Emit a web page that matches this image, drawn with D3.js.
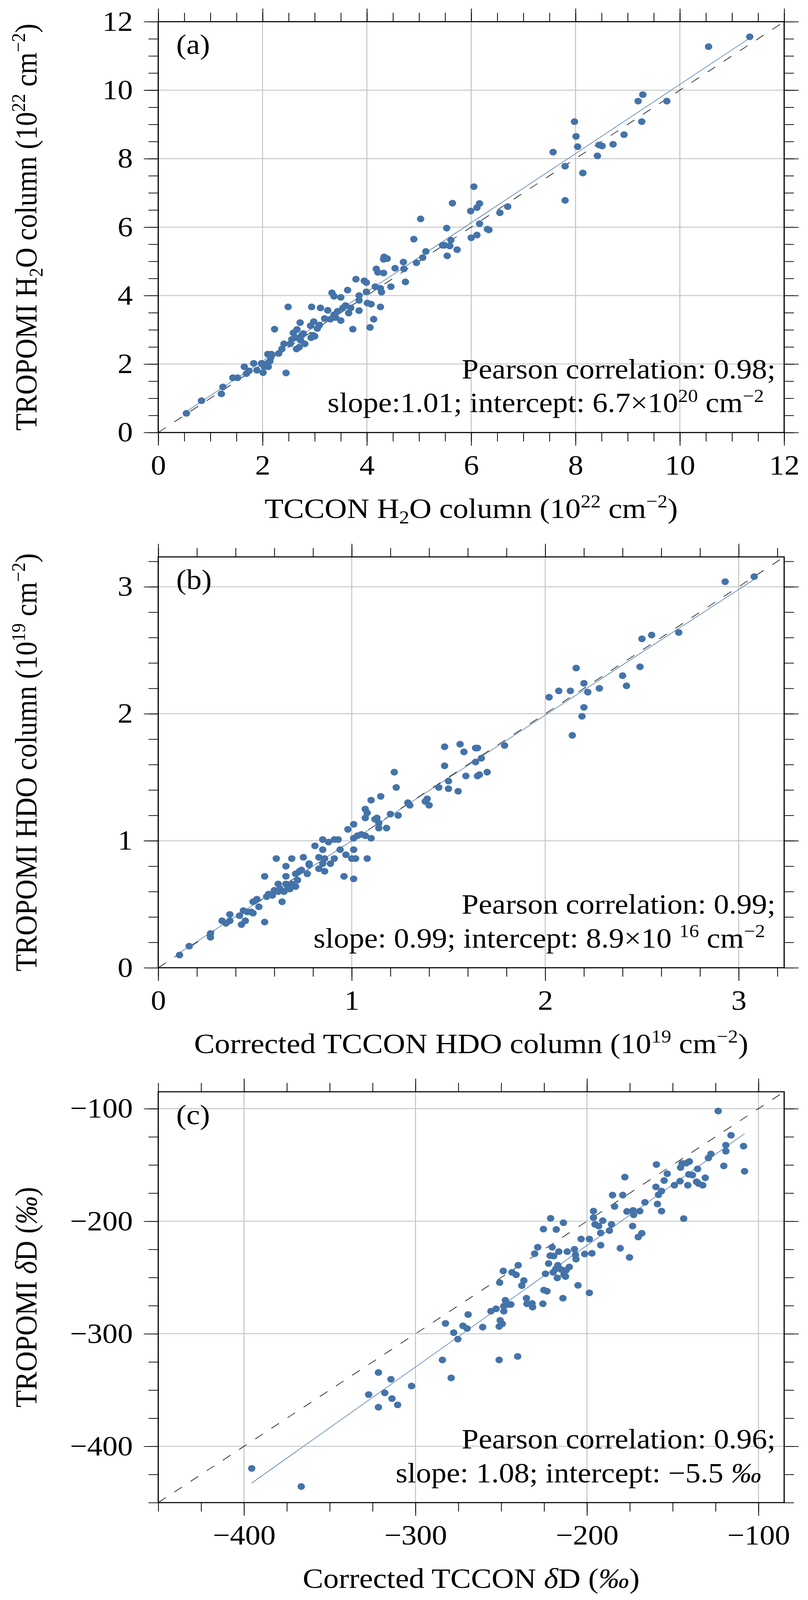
<!DOCTYPE html>
<html>
<head>
<meta charset="utf-8">
<script src="https://cdn.jsdelivr.net/npm/d3@7"></script>
<style>
  html, body { margin: 0; padding: 0; background: #fff; overflow: hidden; }
  svg { display: block; }
  text { font-family: "Liberation Serif", "Times New Roman", serif; fill: #000; white-space: pre; }
</style>
</head>
<body>
<script>
// (a) H2O columns, 10^22 cm^-2
const h2oTccon = [0.54,0.83,1.24,1.21,1.43,1.52,1.65,1.69,1.74,1.83,1.89,1.98,2.01,2.03,2.09,2.11,2.14,2.10,2.17,2.16,
  2.23,2.31,2.37,2.41,2.45,2.49,2.53,2.56,2.59,2.63,2.66,2.65,2.70,2.72,2.73,2.75,2.78,2.81,2.92,2.94,
  2.93,2.98,2.97,3.00,3.05,3.09,3.11,3.19,3.25,3.30,3.33,3.37,3.37,3.40,3.44,3.50,3.50,3.54,3.59,3.63,
  3.65,3.69,3.73,3.79,3.85,3.85,3.85,3.95,3.99,3.99,4.01,4.06,4.08,4.13,4.16,4.18,4.21,4.26,4.28,4.26,
  4.32,4.32,4.33,4.39,4.46,4.54,4.70,4.71,4.74,4.90,4.95,5.03,5.07,5.13,5.45,5.49,5.53,5.54,5.59,5.61,
  5.64,5.73,5.99,6.00,6.05,6.11,6.11,6.16,6.16,6.31,6.34,6.55,6.70,7.57,7.80,7.80,7.98,8.01,8.04,8.14,
  8.42,8.45,8.51,8.72,8.93,9.20,9.27,9.29,9.75,10.55,11.34];
const h2oTropomi = [0.56,0.93,1.33,1.13,1.60,1.60,1.92,1.72,1.80,2.02,1.82,2.02,1.75,1.92,2.02,1.92,2.08,2.29,2.29,2.20,
  3.02,2.31,2.44,2.59,1.74,3.67,2.59,2.72,2.91,2.77,3.01,2.44,2.49,3.21,2.69,2.84,2.89,2.59,3.12,3.67,
  2.77,3.24,2.84,2.81,3.04,3.14,3.64,3.33,3.57,3.31,4.08,3.44,3.98,3.36,3.54,3.27,3.95,3.64,3.71,4.16,
  3.49,3.64,3.02,4.48,3.86,4.00,3.56,4.43,4.11,4.38,3.78,3.07,3.75,3.31,4.26,4.78,4.68,3.67,4.10,4.21,
  4.66,5.06,5.13,5.08,4.26,4.80,4.98,4.78,4.40,5.65,4.96,6.24,5.11,5.29,5.47,5.47,5.97,5.16,5.45,5.62,
  6.70,5.34,6.47,5.69,7.18,6.57,5.77,6.69,6.10,5.94,5.92,6.42,6.60,8.19,7.78,6.78,9.08,8.65,8.35,7.58,
  8.08,8.40,8.37,8.42,8.70,9.68,9.08,9.87,9.68,11.27,11.56];

// (b) HDO columns, 10^19 cm^-2
const hdoTccon = [0.11,0.16,0.27,0.27,0.33,0.35,0.37,0.37,0.42,0.43,0.44,0.45,0.46,0.48,0.49,0.49,0.51,0.52,0.55,0.55,
  0.56,0.57,0.59,0.60,0.61,0.62,0.62,0.63,0.64,0.66,0.66,0.65,0.66,0.67,0.68,0.69,0.69,0.71,0.71,0.72,
  0.73,0.74,0.75,0.77,0.78,0.78,0.81,0.83,0.83,0.85,0.85,0.85,0.86,0.86,0.88,0.89,0.91,0.91,0.93,0.94,
  0.96,0.97,0.98,1.00,1.01,1.01,1.01,1.01,1.02,1.03,1.05,1.07,1.07,1.07,1.08,1.08,1.10,1.10,1.12,1.13,
  1.14,1.14,1.15,1.18,1.20,1.22,1.23,1.24,1.29,1.30,1.38,1.39,1.40,1.45,1.48,1.48,1.50,1.50,1.55,1.56,
  1.58,1.59,1.64,1.65,1.64,1.65,1.66,1.67,1.70,1.79,2.02,2.07,2.13,2.14,2.16,2.19,2.20,2.20,2.22,2.28,
  2.40,2.42,2.49,2.50,2.55,2.69,2.93,3.08];
const hdoTropomi = [0.10,0.17,0.27,0.24,0.37,0.35,0.42,0.37,0.41,0.34,0.45,0.37,0.44,0.44,0.52,0.43,0.54,0.48,0.72,0.36,
  0.56,0.58,0.57,0.61,0.86,0.66,0.60,0.62,0.52,0.80,0.72,0.60,0.66,0.63,0.62,0.86,0.66,0.74,0.64,0.69,
  0.76,0.77,0.87,0.74,0.82,0.81,0.96,0.78,0.87,1.01,0.93,0.82,0.86,0.76,0.99,0.82,1.01,0.86,1.01,0.93,
  0.72,0.89,1.09,0.86,1.02,0.70,1.13,0.93,0.86,1.04,1.05,1.04,1.25,1.18,1.22,0.86,1.02,1.32,1.17,1.18,
  1.14,1.10,1.35,1.10,1.21,1.54,1.42,1.20,1.30,1.28,1.31,1.33,1.28,1.42,1.59,1.74,1.47,1.41,1.39,1.76,
  1.70,1.51,1.73,1.73,1.62,1.51,1.52,1.65,1.54,1.75,2.13,2.18,2.18,1.83,2.36,1.98,2.24,2.05,2.17,2.20,
  2.30,2.22,2.37,2.59,2.62,2.64,3.04,3.08];

// (c) deltaD, permil
const dDTccon = [-395.5,-366.6,-327.3,-321.6,-321.6,-317.9,-314.3,-313.7,-310.4,-302.3,-284.3,-282.5,-279.2,-277.7,-275.3,
  -272.3,-269.9,-269.3,-260.8,-256.0,-253.0,-251.2,-251.2,-250.9,-250.6,-249.4,-248.8,-248.5,-248.5,-247.6,
  -246.1,-244.4,-243.7,-241.3,-240.4,-240.1,-238.0,-236.8,-235.3,-235.0,-232.0,-231.7,-230.5,-228.7,-225.4,
  -225.7,-225.1,-223.3,-224.2,-222.4,-221.5,-221.2,-220.3,-219.7,-219.4,-218.2,-217.9,-217.3,-217.0,-216.4,
  -214.9,-214.0,-213.7,-213.4,-212.5,-212.2,-211.5,-210.3,-207.3,-206.7,-206.4,-205.2,-203.4,-201.3,-198.6,
  -198.6,-197.1,-196.2,-196.2,-195.3,-193.2,-192.0,-192.0,-190.8,-186.9,-185.7,-185.1,-183.9,-180.6,-179.1,
  -177.9,-176.7,-175.2,-173.4,-173.1,-172.8,-170.1,-169.2,-168.0,-166.2,-159.8,-159.5,-158.9,-158.3,-156.5,
  -156.5,-155.0,-153.2,-149.0,-145.7,-145.4,-144.5,-143.6,-142.1,-141.2,-140.6,-140.3,-138.5,-136.1,-135.5,
  -134.9,-132.5,-131.0,-129.2,-127.7,-123.5,-120.2,-119.0,-119.0,-116.0,-108.7,-108.1];
const dDTropomi = [-419.6,-435.7,-354.0,-334.4,-365.2,-352.5,-340.4,-357.6,-363.1,-346.4,-323.2,-290.8,-339.2,-299.0,-304.7,
  -292.9,-295.3,-282.9,-294.1,-279.9,-277.8,-323.2,-293.5,-254.5,-288.1,-291.1,-244.2,-279.9,-275.4,-270.2,
  -273.9,-273.9,-245.4,-247.6,-320.1,-239.1,-257.2,-252.7,-268.4,-273.3,-273.0,-276.3,-228.8,-223.1,-207.0,
  -273.3,-261.2,-262.1,-246.7,-237.6,-230.6,-197.4,-223.1,-245.4,-230.9,-242.4,-207.3,-250.3,-239.1,-227.0,
  -243.0,-268.4,-201.3,-247.6,-249.1,-243.6,-227.0,-240.6,-224.9,-230.0,-233.7,-256.9,-215.8,-229.1,-215.8,
  -263.6,-228.5,-191.0,-196.8,-202.8,-204.3,-210.4,-221.3,-199.5,-208.3,-202.8,-176.8,-186.8,-224.0,-176.8,
  -160.8,-191.3,-232.1,-204.3,-190.4,-194.3,-214.0,-191.0,-210.7,-183.2,-169.5,-149.6,-184.7,-176.5,-173.2,
  -191.0,-163.8,-157.8,-168.0,-164.4,-152.3,-148.7,-197.7,-148.4,-168.0,-158.4,-146.9,-159.0,-165.0,-153.5,
  -166.5,-168.0,-161.4,-143.8,-140.2,-102.1,-150.8,-137.8,-132.4,-123.6,-133.3,-155.6];

// axis ticks
const aMajor = [0, 2, 4, 6, 8, 10, 12];
const bMajor = [0, 1, 2, 3];
const cMajor = [-400, -300, -200, -100];

// fit results printed in the panels
const fitA = { slope: 1.01, intercept: 0.067 };
const fitB = { slope: 0.99, intercept: 0.0089 };
const fitC = { slope: 1.08, intercept: -5.5 };

const FS = 78, TFS = 79;
const W = 2068, H = 4502;

// the window may be shorter than the figure, so squeeze the whole figure into it
const viewH = Math.min(window.innerHeight || H, H);
const svg = d3.select("body").append("svg")
  .attr("width", W).attr("height", viewH)
  .attr("viewBox", `0 0 ${W} ${H}`)
  .attr("preserveAspectRatio", "none");

const left = 405, right = 2007, plotH = 1156;

function rich(g, x, y, parts, anchor, rotate, fs) {
  fs = fs || FS;
  const t = g.append("text")
    .attr("x", x).attr("y", y)
    .attr("font-size", fs)
    .attr("text-anchor", anchor || "start");
  if (rotate) t.attr("transform", `rotate(-90 ${x} ${y})`);
  let shift = 0;
  parts.forEach(p => {
    const str = p[0], kind = p[1];
    let target = 0, size = fs;
    if (kind === "sup") { target = -0.37 * fs; size = 0.65 * fs; }
    if (kind === "sub") { target = 0.2 * fs; size = 0.65 * fs; }
    const ts = t.append("tspan").attr("dy", target - shift).attr("font-size", size).text(str);
    if (kind === "it") ts.attr("font-style", "italic");
    shift = target;
  });
  return t;
}

function drawPanel(p) {
  const top = p.top, bottom = top + plotH;
  const x = d3.scaleLinear().domain(p.domain).range([left, right]);
  const y = d3.scaleLinear().domain(p.domain).range([bottom, top]);
  const minor = d3.range(p.domain[0], p.domain[1] + 1e-9, p.minorStep)
    .map(v => +v.toFixed(6));
  const g = svg.append("g");

  // grid
  g.append("g").selectAll("line").data(p.major).join("line")
    .attr("x1", d => x(d)).attr("x2", d => x(d))
    .attr("y1", top).attr("y2", bottom)
    .attr("stroke", "#c4c4c4").attr("stroke-width", 2.5);
  g.append("g").selectAll("line").data(p.major).join("line")
    .attr("y1", d => y(d)).attr("y2", d => y(d))
    .attr("x1", left).attr("x2", right)
    .attr("stroke", "#c4c4c4").attr("stroke-width", 2.5);

  // 1:1 line
  g.append("line")
    .attr("x1", x(p.domain[0])).attr("y1", y(p.domain[0]))
    .attr("x2", x(p.domain[1])).attr("y2", y(p.domain[1]))
    .attr("stroke", "#000").attr("stroke-width", 1.6)
    .attr("stroke-dasharray", "24,27");

  // fit line over data range
  const x0 = d3.min(p.xs), x1 = d3.max(p.xs);
  g.append("line")
    .attr("x1", x(x0)).attr("y1", y(p.fit.slope * x0 + p.fit.intercept))
    .attr("x2", x(x1)).attr("y2", y(p.fit.slope * x1 + p.fit.intercept))
    .attr("stroke", "#4a78b2").attr("stroke-width", 1.6);

  // points
  g.append("g").selectAll("circle").data(p.xs.map((v, i) => [v, p.ys[i]])).join("circle")
    .attr("cx", d => x(d[0])).attr("cy", d => y(d[1]))
    .attr("r", 9.5).attr("fill", "#4473a9");

  // axes: major (long) and minor (short) ticks on all four sides
  const fmt = d3.format("d");
  const axes = [
    [d3.axisBottom(x), `translate(0,${bottom})`, true, 26],
    [d3.axisTop(x), `translate(0,${top})`, false, 26],
    [d3.axisLeft(y), `translate(${left},0)`, true, 28],
    [d3.axisRight(y), `translate(${right},0)`, false, 26]
  ];
  axes.forEach(([ax, tr, labels, pad]) => {
    const gMin = g.append("g").attr("transform", tr)
      .call(ax.tickValues(minor).tickSize(25).tickFormat(""));
    gMin.select(".domain").remove();
    const gMaj = g.append("g").attr("transform", tr)
      .call(ax.tickValues(p.major).tickSize(37).tickPadding(pad)
        .tickFormat(labels ? fmt : ""));
    gMaj.select(".domain").remove();
    gMaj.selectAll(".tick text")
      .attr("font-size", FS)
      .attr("font-family", "Liberation Serif, Times New Roman, serif");
  });
  g.selectAll(".tick line").attr("stroke", "#000").attr("stroke-width", 2);

  // frame
  g.append("rect")
    .attr("x", left).attr("y", top)
    .attr("width", right - left).attr("height", plotH)
    .attr("fill", "none").attr("stroke", "#000").attr("stroke-width", 3);

  // panel tag
  g.append("text").attr("x", 451).attr("y", top + 91)
    .attr("font-size", FS).text(p.tag);

  // stats text
  rich(g, 1985, bottom - 152, [["Pearson correlation: " + p.r + ";"]], "end");
  rich(g, p.statsEnd, bottom - 57, p.statsParts, "end");

  // axis titles
  rich(g, (left + right) / 2, bottom + 240, p.xTitle, "middle", false, TFS);
  rich(g, 93, (top + bottom) / 2, p.yTitle, "middle", true, TFS);
}

drawPanel({
  top: 61, domain: [0, 12], major: aMajor, minorStep: 0.5,
  xs: h2oTccon, ys: h2oTropomi, fit: fitA, tag: "(a)", r: "0.98",
  statsEnd: 1955,
  statsParts: [["slope:1.01; intercept: 6.7×10"], ["20", "sup"], [" cm"], ["−2", "sup"]],
  xTitle: [["TCCON H"], ["2", "sub"], ["O column (10"], ["22", "sup"], [" cm"], ["−2", "sup"], [")"]],
  yTitle: [["TROPOMI H"], ["2", "sub"], ["O column (10"], ["22", "sup"], [" cm"], ["−2", "sup"], [")"]]
});

drawPanel({
  top: 1567, domain: [0, 3.235], major: bMajor, minorStep: 0.2,
  xs: hdoTccon, ys: hdoTropomi, fit: fitB, tag: "(b)", r: "0.99",
  statsEnd: 1958,
  statsParts: [["slope: 0.99; intercept: 8.9×10 "], ["16", "sup"], [" cm"], ["−2", "sup"]],
  xTitle: [["Corrected TCCON HDO column (10"], ["19", "sup"], [" cm"], ["−2", "sup"], [")"]],
  yTitle: [["TROPOMI HDO column (10"], ["19", "sup"], [" cm"], ["−2", "sup"], [")"]]
});

drawPanel({
  top: 3072, domain: [-450, -85], major: cMajor, minorStep: 25,
  xs: dDTccon, ys: dDTropomi, fit: fitC, tag: "(c)", r: "0.96",
  statsEnd: 1949,
  statsParts: [["slope: 1.08; intercept: −5.5 "], ["‰", "it"]],
  xTitle: [["Corrected TCCON "], ["δ", "it"], ["D ("], ["‰", "it"], [")"]],
  yTitle: [["TROPOMI "], ["δ", "it"], ["D ("], ["‰", "it"], [")"]]
});
</script>
</body>
</html>
